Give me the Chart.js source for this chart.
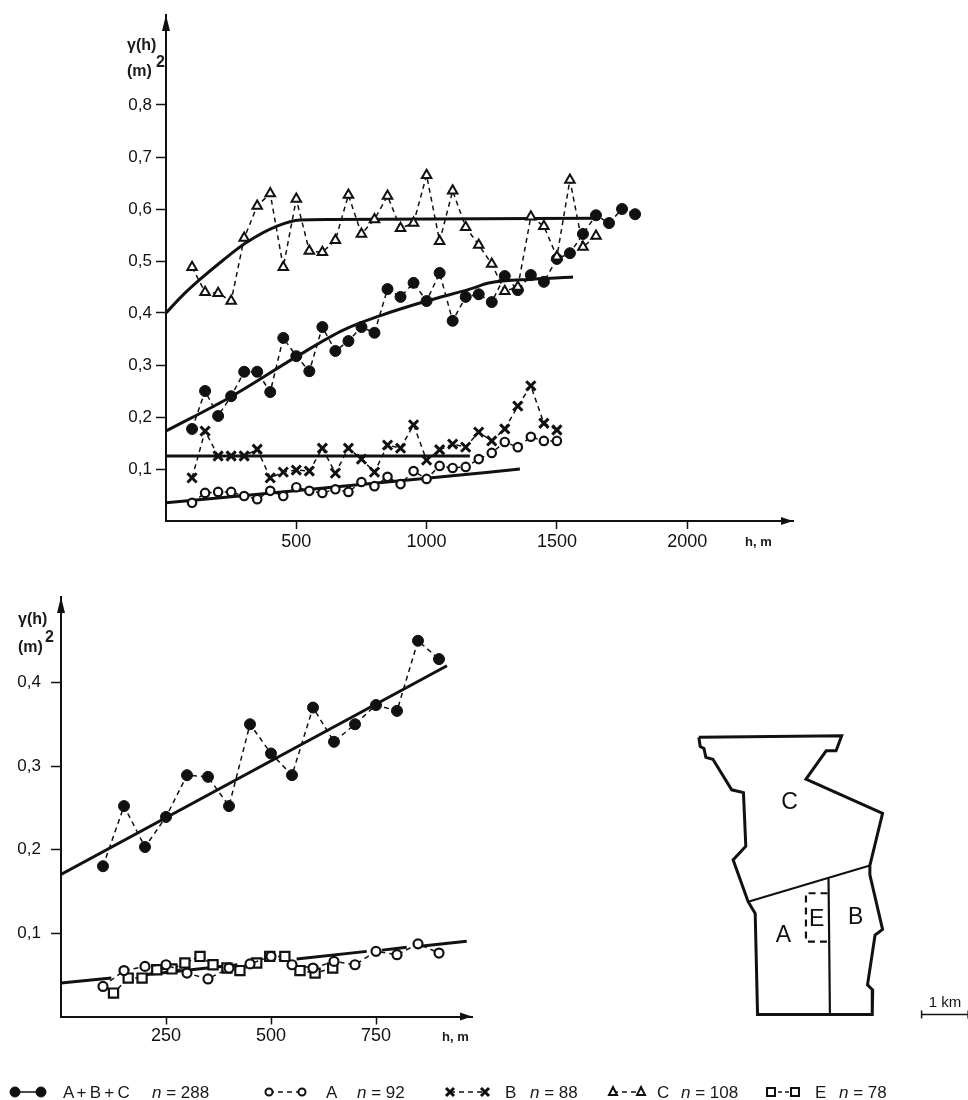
<!DOCTYPE html>
<html><head><meta charset="utf-8">
<script src="https://cdn.jsdelivr.net/npm/chart.js@4"></script>
<style>
html,body{margin:0;padding:0;background:#fff;width:968px;height:1100px;overflow:hidden}
canvas{position:absolute;display:block}
.t{position:absolute;transform:translateY(-50%);white-space:nowrap;font-family:"Liberation Sans",sans-serif;color:#1a1a1a;line-height:1}
.b{font-weight:bold;font-size:16px}
.l{font-size:17px}
.i{font-style:italic}
svg{position:absolute;left:0;top:1080px}
</style></head><body>
<canvas id="top" width="968" height="570" style="left:0;top:0"></canvas>
<canvas id="bot" width="968" height="525" style="left:0;top:575px"></canvas>
<canvas id="map" width="288" height="310" style="left:680px;top:720px"></canvas>

<span class="t b" style="left:127px;top:45px">γ(h)</span>
<span class="t b" style="left:127px;top:71px">(m)</span>
<span class="t" style="left:156px;top:62px;font-size:16px;font-weight:bold">2</span>
<span class="t b" style="left:745px;top:541px;font-size:13px">h, m</span>
<span class="t b" style="left:18px;top:619px">γ(h)</span>
<span class="t b" style="left:18px;top:647px">(m)</span>
<span class="t" style="left:45px;top:637px;font-size:16px;font-weight:bold">2</span>
<span class="t b" style="left:442px;top:1036px;font-size:13px">h, m</span>

<svg width="968" height="20" viewBox="0 1080 968 20" fill="none" stroke="#111">
  <path d="M15 1092H41" stroke-width="1.5"/><circle cx="15" cy="1092" r="5" fill="#111"/><circle cx="41" cy="1092" r="5" fill="#111"/>
  <path d="M269 1092H302" stroke-width="1.5" stroke-dasharray="5 4"/><circle cx="269" cy="1092" r="3.5" fill="#fff" stroke-width="2"/><circle cx="302" cy="1092" r="3.5" fill="#fff" stroke-width="2"/>
  <path d="M450 1092H485" stroke-width="1.5" stroke-dasharray="5 4"/><path d="M446 1088l8 8m0-8l-8 8M481 1088l8 8m0-8l-8 8" stroke-width="3"/>
  <path d="M613 1092H641" stroke-width="1.5" stroke-dasharray="5 4"/><path d="M613 1087l4 8h-8zM641 1087l4 8h-8z" fill="#fff" stroke-width="2"/>
  <path d="M771 1092H795" stroke-width="1.5" stroke-dasharray="4 3"/><rect x="767" y="1088" width="8" height="8" fill="#fff" stroke-width="2"/><rect x="791" y="1088" width="8" height="8" fill="#fff" stroke-width="2"/>
</svg>
<span class="t l" style="left:63px;top:1092px;word-spacing:-1.5px">A + B + C</span>
<span class="t l" style="left:152px;top:1092px"><span class="i">n</span> = 288</span>
<span class="t l" style="left:326px;top:1092px">A</span>
<span class="t l" style="left:357px;top:1092px"><span class="i">n</span> = 92</span>
<span class="t l" style="left:505px;top:1092px">B</span>
<span class="t l" style="left:530px;top:1092px"><span class="i">n</span> = 88</span>
<span class="t l" style="left:657px;top:1092px">C</span>
<span class="t l" style="left:681px;top:1092px"><span class="i">n</span> = 108</span>
<span class="t l" style="left:815px;top:1092px">E</span>
<span class="t l" style="left:839px;top:1092px"><span class="i">n</span> = 78</span>

<script>
// ---- upper chart: lags (m) and variogram values (m^2)
const lagABC = [100,150,200,250,300,350,400,450,500,550,600,650,700,750,800,850,900,950,1000,1050,1100,1150,1200,1250,1300,1350,1400,1450,1500,1550,1600,1650,1700,1750,1800];
const gammaABC = [.177,.25,.202,.24,.287,.287,.248,.352,.317,.288,.373,.327,.346,.373,.362,.446,.431,.458,.423,.477,.385,.431,.436,.421,.471,.444,.473,.46,.504,.515,.552,.588,.573,.6,.59];
const lagC = [100,150,200,250,300,350,400,450,500,550,600,650,700,750,800,850,900,950,1000,1050,1100,1150,1200,1250,1300,1350,1400,1450,1500,1550,1600,1650];
const gammaC = [.488,.44,.438,.423,.544,.606,.63,.488,.619,.519,.517,.54,.627,.552,.58,.625,.563,.573,.665,.538,.635,.565,.531,.494,.442,.45,.585,.567,.508,.656,.527,.548];
const lagB = [100,150,200,250,300,350,400,450,500,550,600,650,700,750,800,850,900,950,1000,1050,1100,1150,1200,1250,1300,1350,1400,1450,1500];
const gammaB = [.083,.173,.125,.125,.125,.138,.083,.094,.098,.096,.14,.092,.14,.119,.094,.146,.14,.185,.117,.137,.148,.142,.171,.154,.177,.221,.26,.188,.175];
const lagA = [100,150,200,250,300,350,400,450,500,550,600,650,700,750,800,850,900,950,1000,1050,1100,1150,1200,1250,1300,1350,1400,1450,1500];
const gammaA = [.035,.054,.056,.056,.048,.042,.058,.048,.065,.058,.054,.061,.056,.075,.067,.085,.071,.096,.081,.106,.102,.104,.119,.131,.152,.142,.162,.154,.154];
// fitted models, upper chart
const fitLagC = [0,60,127,220,307,426,514,630,1650];
const fitC = [.40,.432,.463,.502,.535,.567,.579,.58,.582];
const fitLagABC = [0,253,504,680,829,1000,1166,1243,1408,1562];
const fitABC = [.173,.24,.317,.367,.396,.423,.446,.458,.465,.469];
const fitLagB = [0,1166];
const fitB = [.125,.125];
const fitLagA = [0,1000,1358];
const fitA = [.035,.082,.1];
const topXTicks = [500,1000,1500,2000];
const topYTicks = [.1,.2,.3,.4,.5,.6,.7,.8];

// ---- lower chart
const lowLagABC = [100,150,200,250,300,350,400,450,500,550,600,650,700,750,800,850,900];
const lowGammaABC = [.18,.252,.203,.239,.289,.287,.252,.35,.315,.289,.37,.329,.35,.373,.366,.45,.428];
const lowLagA = [100,150,200,250,300,350,400,450,500,550,600,650,700,750,800,850,900];
const lowGammaA = [.036,.055,.06,.062,.052,.045,.058,.063,.072,.062,.058,.066,.062,.078,.074,.087,.076];
const lowLagE = [125,160,193,228,264,295,331,362,395,426,466,497,533,569,605,647];
const lowGammaE = [.028,.046,.046,.056,.057,.064,.072,.062,.058,.055,.064,.072,.072,.055,.052,.058];
const lowFitLagABC = [0,919];
const lowFitABC = [.17,.42];
const lowFitLag = [0,120,160,200,420,490,561,728,745,764,823,840,855,966];
const lowFit = [.04,.046,null,.05,.062,null,.069,.078,null,.0795,.083,null,.084,.09];
const lowXTicks = [250,500,750];
const lowYTicks = [.1,.2,.3,.4];

// ---- site map, km
const mapOutlineX = [.40,3.44,3.32,3.11,2.68,4.31,4.04,4.04,4.31,4.15,3.99,4.10,4.09,1.65,1.60,1.45,1.13,1.40,1.35,1.10,.70,.55,.51,.43,.40];
const mapOutlineY = [6.23,6.26,5.94,5.94,5.34,4.61,3.50,3.30,2.14,2.02,.96,.85,.33,.33,2.48,2.73,3.62,3.91,5.05,5.11,5.76,5.80,5.99,6.03,6.23];
const mapSplitCX = [1.45,4.04];
const mapSplitCY = [2.73,3.50];
const mapSplitABX = [3.16,3.19];
const mapSplitABY = [3.23,.33];
const mapEX = [3.14,2.68,2.68,3.16];
const mapEY = [2.91,2.91,1.88,1.88];
const mapBarX = [5.14,6.13];
const mapBarY = [.33,.33];
const mapLabelText = ['C','E','B','A','1 km'];
const mapLabelX = [2.33,2.91,3.74,2.2,5.64];
const mapLabelY = [4.84,2.34,2.38,2.0,.57];

const ink = '#111';
const pts = (xs,ys)=>xs.map((x,i)=>({x,y:ys[i]}));
const comma = v=>Number(v).toFixed(1).replace('.',',');

function fitLine(xs,ys,w){return {data:pts(xs,ys),showLine:true,borderColor:ink,borderWidth:w||3,pointRadius:0,spanGaps:false,order:10,cubicInterpolationMode:'monotone'};}
function marked(xs,ys,style,r,fill,bw,dash){
  return {data:pts(xs,ys),showLine:true,borderColor:ink,borderWidth:1.5,borderDash:dash||[5,4],tension:0,
    pointStyle:style,pointRadius:r,pointBackgroundColor:fill,pointBorderColor:ink,pointBorderWidth:bw,order:1};
}
const arrows = {id:'arrows',afterDraw(c){
  const a=c.chartArea,x=c.ctx;x.save();x.fillStyle=ink;
  x.beginPath();x.moveTo(a.left,a.top);x.lineTo(a.left-4,a.top+16);x.lineTo(a.left+4,a.top+16);x.fill();
  x.beginPath();x.moveTo(a.right,a.bottom);x.lineTo(a.right-12,a.bottom-4);x.lineTo(a.right-12,a.bottom+4);x.fill();
  x.restore();}};

function plot(id,datasets,o){
  const axisFont={family:'"Liberation Sans",sans-serif',size:o.size};
  new Chart(document.getElementById(id),{type:'scatter',data:{datasets},plugins:[arrows],options:{
    responsive:false,animation:false,devicePixelRatio:1,
    layout:{padding:{left:0,top:o.top,right:968-o.right,bottom:0}},
    plugins:{legend:{display:false},tooltip:{enabled:false}},
    scales:{
      x:{type:'linear',min:0,max:o.xMax,
        afterBuildTicks(s){s.ticks=o.xTicks.map(value=>({value}));},
        afterFit(s){s.height=o.xH;},
        border:{display:true,color:ink,width:2},
        grid:{drawOnChartArea:false,tickLength:8,tickColor:ink,tickWidth:1.5},
        ticks:{autoSkip:false,maxRotation:0,padding:o.xPad,color:'#111',font:axisFont,callback:v=>String(v)}},
      y:{type:'linear',min:0,max:o.yMax,
        afterBuildTicks(s){s.ticks=o.yTicks.map(value=>({value}));},
        afterFit(s){s.width=o.yW;},
        border:{display:true,color:ink,width:2},
        grid:{drawOnChartArea:false,tickLength:10,tickColor:ink,tickWidth:1.5},
        ticks:{autoSkip:false,padding:o.yPad,color:'#111',font:{family:axisFont.family,size:17},callback:comma}}
    }}});
}

plot('top',[
  marked(lagC,gammaC,'triangle',5.5,'#fff',2),
  marked(lagABC,gammaABC,'circle',5.5,ink,1),
  marked(lagB,gammaB,'crossRot',6.5,ink,3),
  marked(lagA,gammaA,'circle',4.2,'#fff',2.2),
  fitLine(fitLagC,fitC),fitLine(fitLagABC,fitABC),fitLine(fitLagB,fitB),fitLine(fitLagA,fitA)
],{top:15,right:793,xMax:(793-166)/.2606,yMax:(521-15)/520,xH:49,yW:166,xTicks:topXTicks,yTicks:topYTicks,size:18,xPad:2,yPad:4});

plot('bot',[
  marked(lowLagABC,lowGammaABC,'circle',5.5,ink,1),
  marked(lowLagA,lowGammaA,'circle',4.5,'#fff',2.2),
  marked(lowLagE,lowGammaE,'rect',6.5,'#fff',2.2,[4,3]),
  fitLine(lowFitLagABC,lowFitABC),fitLine(lowFitLag,lowFit)
],{top:22,right:472,xMax:(472-61)/.42,yMax:(441.5-22)/835,xH:83.5,yW:61,xTicks:lowXTicks,yTicks:lowYTicks,size:18,xPad:1,yPad:10});

const mapLabels = {id:'mapLabels',afterDraw(c){
  const x=c.ctx;x.save();x.fillStyle=ink;x.textAlign='center';x.textBaseline='middle';
  mapLabelText.forEach((t,i)=>{
    x.font=(t.length>1?'15px':'23px')+' "Liberation Sans",sans-serif';
    x.fillText(t,c.scales.x.getPixelForValue(mapLabelX[i]),c.scales.y.getPixelForValue(mapLabelY[i]));
  });x.restore();}};
const mapLine=(xs,ys,w,dash,style)=>({data:pts(xs,ys),showLine:true,borderColor:ink,borderWidth:w,borderDash:dash||[],tension:0,
  pointRadius:style?4:0,pointStyle:style||'circle',pointRotation:90,pointBorderColor:ink,pointBorderWidth:1.5,borderJoinStyle:'miter'});
new Chart(document.getElementById('map'),{type:'scatter',data:{datasets:[
  mapLine(mapOutlineX,mapOutlineY,3),
  mapLine(mapSplitCX,mapSplitCY,2.2),
  mapLine(mapSplitABX,mapSplitABY,2.2),
  mapLine(mapEX,mapEY,2.2,[7,5]),
  mapLine(mapBarX,mapBarY,1.5,[],'line')
]},plugins:[mapLabels],options:{responsive:false,animation:false,devicePixelRatio:1,
  plugins:{legend:{display:false},tooltip:{enabled:false}},
  layout:{padding:0,autoPadding:false},
  scales:{x:{display:false,min:0,max:288*3/141},y:{display:false,min:0,max:310*3/141}}}});
</script>
</body></html>
